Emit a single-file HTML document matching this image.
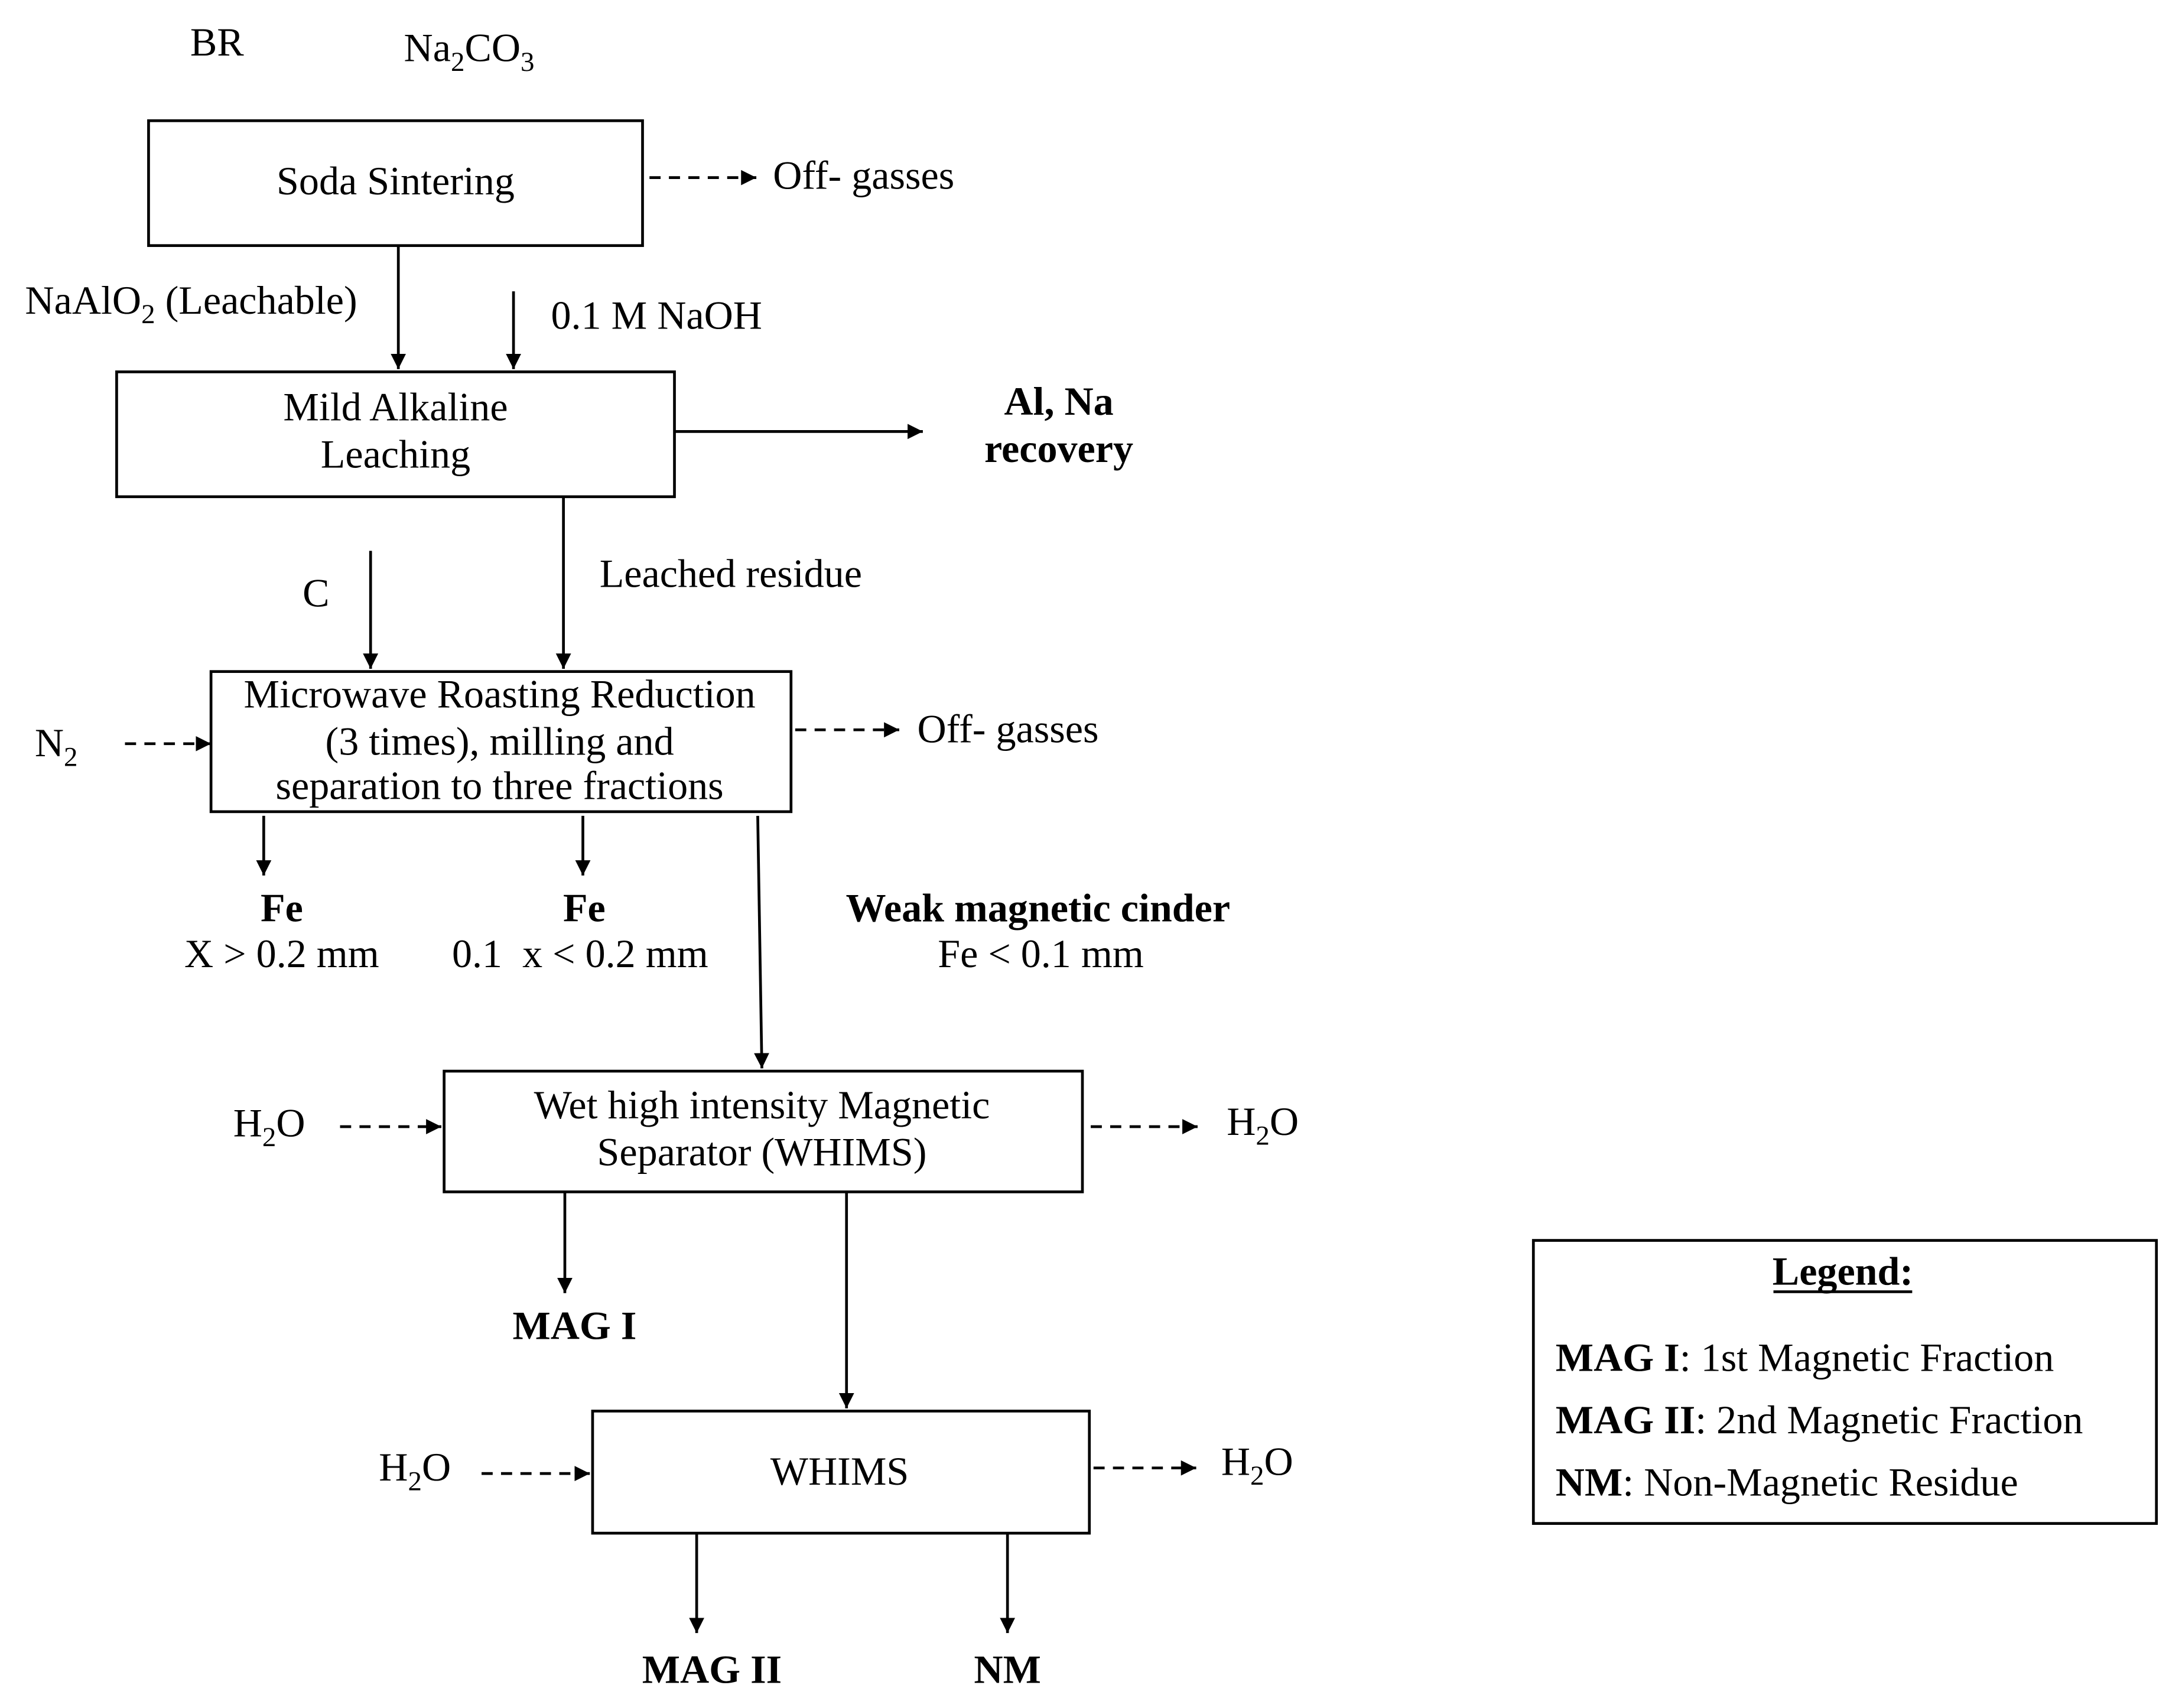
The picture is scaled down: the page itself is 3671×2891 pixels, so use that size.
<!DOCTYPE html>
<html><head><meta charset="utf-8"><style>
html,body{margin:0;padding:0;background:#fff;}
svg{display:block;}
text{font-family:"Liberation Serif",serif;font-size:29px;fill:#000;}
.b{font-weight:bold;}
</style></head><body>
<svg width="3671" height="2891" viewBox="0 0 1563 1231" xmlns="http://www.w3.org/2000/svg">
<defs>
<marker id="a" viewBox="0 0 10 10" refX="10" refY="5" markerWidth="11" markerHeight="11" markerUnits="userSpaceOnUse" orient="auto"><path d="M0,0L10,5L0,10z" fill="#000"/></marker>
</defs>
<g fill="none" stroke="#000" stroke-width="2">
<rect x="107" y="87" width="356" height="90"/>
<rect x="84" y="268" width="402" height="90"/>
<rect x="152" y="484" width="418" height="101"/>
<rect x="320" y="772" width="460" height="87"/>
<rect x="427" y="1017" width="358" height="88"/>
<rect x="1105" y="894" width="449" height="204"/>
</g>
<g stroke="#000" stroke-width="2" marker-end="url(#a)">
<line x1="287" y1="177" x2="287" y2="266"/>
<line x1="370" y1="210" x2="370" y2="266"/>
<line x1="486" y1="311" x2="665" y2="311"/>
<line x1="406" y1="358" x2="406" y2="482"/>
<line x1="267" y1="397" x2="267" y2="482"/>
<line x1="190" y1="588" x2="190" y2="631"/>
<line x1="420" y1="588" x2="420" y2="631"/>
<line x1="546" y1="588" x2="549" y2="770"/>
<line x1="407" y1="859" x2="407" y2="932"/>
<line x1="610" y1="859" x2="610" y2="1015"/>
<line x1="502" y1="1105" x2="502" y2="1177"/>
<line x1="726" y1="1105" x2="726" y2="1177"/>
</g>
<g stroke="#000" stroke-width="2" stroke-dasharray="8,6" marker-end="url(#a)">
<line x1="468" y1="128" x2="545" y2="128"/>
<line x1="90" y1="536" x2="152" y2="536"/>
<line x1="573" y1="526" x2="648" y2="526"/>
<line x1="245" y1="812" x2="318" y2="812"/>
<line x1="786" y1="812" x2="863" y2="812"/>
<line x1="347" y1="1062" x2="425" y2="1062"/>
<line x1="788" y1="1058" x2="862" y2="1058"/>
</g>
<text x="137" y="40">BR</text>
<text x="291" y="44">Na<tspan dy="7" font-size="20">2</tspan><tspan dy="-7">CO</tspan><tspan dy="7" font-size="20">3</tspan></text>
<text x="285" y="140" text-anchor="middle">Soda Sintering</text>
<text x="557" y="136">Off- gasses</text>
<text x="18" y="226">NaAlO<tspan dy="7" font-size="20">2</tspan><tspan dy="-7"> (Leachable)</tspan></text>
<text x="397" y="237">0.1 M NaOH</text>
<text x="285" y="303" text-anchor="middle">Mild Alkaline</text>
<text x="285" y="337" text-anchor="middle">Leaching</text>
<text x="763" y="299" text-anchor="middle" class="b">Al, Na</text>
<text x="763" y="333" text-anchor="middle" class="b">recovery</text>
<text x="432" y="423">Leached residue</text>
<text x="218" y="437">C</text>
<text x="360" y="510" text-anchor="middle">Microwave Roasting Reduction</text>
<text x="360" y="544" text-anchor="middle">(3 times), milling and</text>
<text x="360" y="576" text-anchor="middle">separation to three fractions</text>
<text x="25" y="545">N<tspan dy="7" font-size="20">2</tspan></text>
<text x="661" y="535">Off- gasses</text>
<text x="203" y="664" text-anchor="middle" class="b">Fe</text>
<text x="203" y="697" text-anchor="middle">X &gt; 0.2 mm</text>
<text x="421" y="664" text-anchor="middle" class="b">Fe</text>
<text x="418" y="697" text-anchor="middle" xml:space="preserve">0.1  x &lt; 0.2 mm</text>
<text x="748" y="664" text-anchor="middle" class="b">Weak magnetic cinder</text>
<text x="750" y="697" text-anchor="middle">Fe &lt; 0.1 mm</text>
<text x="549" y="806" text-anchor="middle">Wet high intensity Magnetic</text>
<text x="549" y="840" text-anchor="middle">Separator (WHIMS)</text>
<text x="168" y="819">H<tspan dy="7" font-size="20">2</tspan><tspan dy="-7">O</tspan></text>
<text x="884" y="818">H<tspan dy="7" font-size="20">2</tspan><tspan dy="-7">O</tspan></text>
<text x="414" y="965" text-anchor="middle" class="b">MAG I</text>
<text x="605" y="1070" text-anchor="middle">WHIMS</text>
<text x="273" y="1067">H<tspan dy="7" font-size="20">2</tspan><tspan dy="-7">O</tspan></text>
<text x="880" y="1063">H<tspan dy="7" font-size="20">2</tspan><tspan dy="-7">O</tspan></text>
<text x="513" y="1213" text-anchor="middle" class="b">MAG II</text>
<text x="726" y="1213" text-anchor="middle" class="b">NM</text>
<text x="1328" y="926" text-anchor="middle" class="b">Legend:</text>
<line x1="1278" y1="931" x2="1378" y2="931" stroke="#000" stroke-width="2"/>
<text x="1121" y="988"><tspan class="b">MAG I</tspan>: 1st Magnetic Fraction</text>
<text x="1121" y="1033"><tspan class="b">MAG II</tspan>: 2nd Magnetic Fraction</text>
<text x="1121" y="1078"><tspan class="b">NM</tspan>: Non-Magnetic Residue</text>
</svg>
</body></html>
